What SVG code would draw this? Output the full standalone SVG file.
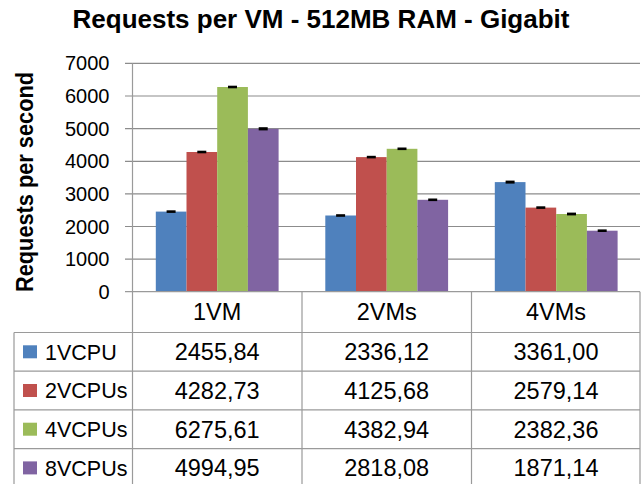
<svg xmlns="http://www.w3.org/2000/svg" width="642" height="484" viewBox="0 0 642 484">
<style>
text{font-family:"Liberation Sans",Arial,sans-serif;fill:#000}
.title{font-size:26px;font-weight:bold;text-anchor:middle}
.ylab{font-size:23px;font-weight:bold;text-anchor:middle}
.tick{font-size:20px;text-anchor:end}
.cell{font-size:23.5px;text-anchor:middle}
.leg{font-size:21.5px}
.grid{stroke:#8c8c8c;stroke-width:1.2;fill:none}
.tbl{stroke:#9a9a9a;stroke-width:1.2;fill:none}
.b1{fill:#4F81BD}.b2{fill:#C0504D}.b3{fill:#9BBB59}.b4{fill:#8064A2}
.err{fill:#000}
</style>
<rect width="642" height="484" fill="#fff"/>
<g id="title"><text class="title" x="321" y="28">Requests per VM - 512MB RAM - Gigabit</text></g>
<g id="y-axis-label"><text class="ylab" transform="translate(32.5,182) rotate(-90)" textLength="220" lengthAdjust="spacingAndGlyphs">Requests per second</text></g>
<g id="gridlines">
<path class="grid" d="M125 63.4H640M125 96H640M125 128.7H640M125 161.3H640M125 193.9H640M125 226.5H640M125 259.1H640"/>
</g>
<g id="y-ticks">
<text class="tick" x="109.5" y="70.4">7000</text>
<text class="tick" x="109.5" y="103">6000</text>
<text class="tick" x="109.5" y="135.7">5000</text>
<text class="tick" x="109.5" y="168.3">4000</text>
<text class="tick" x="109.5" y="200.9">3000</text>
<text class="tick" x="109.5" y="233.5">2000</text>
<text class="tick" x="109.5" y="266.1">1000</text>
<text class="tick" x="109.5" y="298.7">0</text>
</g>
<g id="bars">
<rect class="b1" x="155.8" y="211.6" width="30.7" height="80.1"/>
<rect class="b2" x="186.5" y="152" width="30.7" height="139.7"/>
<rect class="b3" x="217.2" y="87" width="30.7" height="204.7"/>
<rect class="b4" x="247.9" y="128.8" width="30.7" height="162.9"/>
<rect class="b1" x="325.3" y="215.5" width="30.7" height="76.2"/>
<rect class="b2" x="356" y="157.1" width="30.7" height="134.6"/>
<rect class="b3" x="386.7" y="148.8" width="30.7" height="142.9"/>
<rect class="b4" x="417.4" y="199.8" width="30.7" height="91.9"/>
<rect class="b1" x="494.8" y="182.1" width="30.7" height="109.6"/>
<rect class="b2" x="525.5" y="207.6" width="30.7" height="84.1"/>
<rect class="b3" x="556.2" y="214" width="30.7" height="77.7"/>
<rect class="b4" x="586.9" y="230.7" width="30.7" height="61"/>
</g>
<g id="error-bars">
<rect class="err" x="166.6" y="210.3" width="9" height="2.6"/>
<rect class="err" x="197.3" y="150.7" width="9" height="2.6"/>
<rect class="err" x="228" y="85.7" width="9" height="2.6"/>
<rect class="err" x="258.7" y="127.2" width="9" height="3.2"/>
<rect class="err" x="336.1" y="214.2" width="9" height="2.6"/>
<rect class="err" x="366.8" y="155.8" width="9" height="2.6"/>
<rect class="err" x="397.5" y="147.5" width="9" height="2.6"/>
<rect class="err" x="428.2" y="198.5" width="9" height="2.6"/>
<rect class="err" x="505.6" y="180.6" width="9" height="3"/>
<rect class="err" x="536.3" y="206.3" width="9" height="2.6"/>
<rect class="err" x="567" y="212.6" width="9" height="2.8"/>
<rect class="err" x="597.7" y="229.4" width="9" height="2.6"/>
</g>
<g id="table">
<path class="tbl" d="M125 291.7H640M14 332.5H640M14 371.2H640M14 409.9H640M14 448.6H640"/>
<path class="tbl" d="M132.5 63.4V484M14 332.5V484M302 291.7V484M471.5 291.7V484M640 291.7V484"/>
<g id="header">
<text class="cell" x="217.2" y="319.5">1VM</text>
<text class="cell" x="386.7" y="319.5">2VMs</text>
<text class="cell" x="556" y="319.5">4VMs</text>
</g>
<g id="row-1vcpu">
<rect class="b1" x="23" y="345.3" width="14" height="13"/>
<text class="leg" x="45" y="359.5">1VCPU</text>
<text class="cell" x="217.2" y="360">2455,84</text>
<text class="cell" x="386.7" y="360">2336,12</text>
<text class="cell" x="556" y="360">3361,00</text>
</g>
<g id="row-2vcpus">
<rect class="b2" x="23" y="384" width="14" height="13"/>
<text class="leg" x="45" y="398.3">2VCPUs</text>
<text class="cell" x="217.2" y="398.8">4282,73</text>
<text class="cell" x="386.7" y="398.8">4125,68</text>
<text class="cell" x="556" y="398.8">2579,14</text>
</g>
<g id="row-4vcpus">
<rect class="b3" x="23" y="422.7" width="14" height="13"/>
<text class="leg" x="45" y="437">4VCPUs</text>
<text class="cell" x="217.2" y="437.5">6275,61</text>
<text class="cell" x="386.7" y="437.5">4382,94</text>
<text class="cell" x="556" y="437.5">2382,36</text>
</g>
<g id="row-8vcpus">
<rect class="b4" x="23" y="461.4" width="14" height="13"/>
<text class="leg" x="45" y="475.7">8VCPUs</text>
<text class="cell" x="217.2" y="476.2">4994,95</text>
<text class="cell" x="386.7" y="476.2">2818,08</text>
<text class="cell" x="556" y="476.2">1871,14</text>
</g>
</g>
</svg>
